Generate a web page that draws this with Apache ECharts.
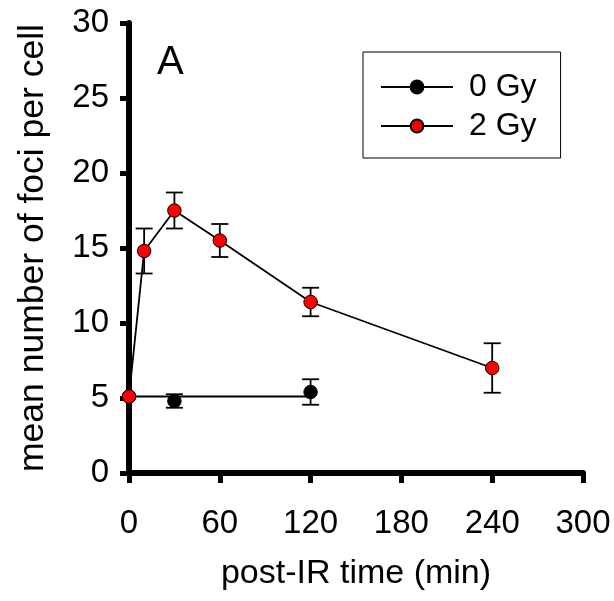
<!DOCTYPE html>
<html>
<head>
<meta charset="utf-8">
<script src="https://cdn.jsdelivr.net/npm/echarts@6/dist/echarts.min.js"></script>
<style>
html,body{margin:0;padding:0;background:#fff;}
#chart{width:614px;height:601px;}
</style>
</head>
<body>
<div id="chart"></div>
<script>
// ---- data ----
const xTicks = [0, 60, 120, 180, 240, 300];
const yTicks = [0, 5, 10, 15, 20, 25, 30];
const times2Gy = [0, 10, 30, 60, 120, 240];
const mean2Gy = [5.1, 14.8, 17.5, 15.5, 11.4, 7.0];
const err2Gy = [0, 1.5, 1.2, 1.1, 0.95, 1.65];
const times0Gy = [0, 30, 120];
const mean0Gy = [5.1, 4.8, 5.4];
const err0Gy = [0, 0.45, 0.85];
const fit0GyTimes = [0, 120];
const fit0GyValues = [5.1, 5.1];
const seriesNames = ['0 Gy', '2 Gy'];
const panelLabel = 'A';
const xTitle = 'post-IR time (min)';
const yTitle = 'mean number of foci per cell';

const FONT = '"Liberation Sans", Arial, sans-serif';

function pairs(xs, ys) { return xs.map((x, i) => [x, ys[i]]); }
function errData(xs, ys, es) {
  return xs.map((x, i) => [x, ys[i], es[i]]).filter(d => d[2] > 0);
}
function renderErr(params, api) {
  const x = api.value(0), y = api.value(1), e = api.value(2);
  const top = api.coord([x, y + e]);
  const bot = api.coord([x, y - e]);
  const hw = 8.5;
  const st = { stroke: '#000', lineWidth: 1.8 };
  return {
    type: 'group',
    children: [
      { type: 'line', shape: { x1: top[0], y1: top[1], x2: bot[0], y2: bot[1] }, style: st },
      { type: 'line', shape: { x1: top[0] - hw, y1: top[1], x2: top[0] + hw, y2: top[1] }, style: st },
      { type: 'line', shape: { x1: bot[0] - hw, y1: bot[1], x2: bot[0] + hw, y2: bot[1] }, style: st }
    ]
  };
}

const chart = echarts.init(document.getElementById('chart'), null, { renderer: 'canvas' });
const axisLineStyle = { color: '#000', width: 6 };
chart.setOption({
  animation: false,
  backgroundColor: '#fff',
  textStyle: { fontFamily: FONT },
  grid: { left: 129, right: 31, top: 23, bottom: 128, containLabel: false },
  xAxis: {
    type: 'value', min: xTicks[0], max: xTicks[xTicks.length - 1], interval: xTicks[1] - xTicks[0],
    axisLine: { show: true, onZero: false, lineStyle: axisLineStyle },
    axisTick: { show: true, length: 10, lineStyle: { color: '#000', width: 5 } },
    axisLabel: { color: '#000', fontSize: 33, margin: 34, fontFamily: FONT },
    splitLine: { show: false },
    name: xTitle, nameLocation: 'middle', nameGap: 84,
    nameTextStyle: { color: '#000', fontSize: 34, fontFamily: FONT }
  },
  yAxis: {
    type: 'value', min: yTicks[0], max: yTicks[yTicks.length - 1], interval: yTicks[1] - yTicks[0],
    axisLine: { show: true, onZero: false, lineStyle: axisLineStyle },
    axisTick: { show: true, length: 9, lineStyle: { color: '#000', width: 5 } },
    axisLabel: { color: '#000', fontSize: 33, margin: 20, fontFamily: FONT },
    splitLine: { show: false },
    name: yTitle, nameLocation: 'middle', nameGap: 78, nameRotate: 90,
    nameTextStyle: { color: '#000', fontSize: 35.5, fontFamily: FONT }
  },
  legend: {
    left: 363, top: 52,
    orient: 'vertical',
    data: [
      { name: seriesNames[0], lineStyle: { opacity: 1, width: 1.8, color: '#000' } },
      { name: seriesNames[1] }
    ],
    itemWidth: 72, itemHeight: 16, itemGap: 7,
    padding: [19, 24, 16, 17],
    borderColor: '#000', borderWidth: 1,
    textStyle: { color: '#000', fontSize: 32, lineHeight: 32, fontFamily: FONT, padding: [0, 0, 0, 11] }
  },
  graphic: [
    { type: 'text', left: 157, top: 43, style: { text: panelLabel, fontSize: 40, fontFamily: FONT, fill: '#000' } }
  ],
  series: [
    {
      name: 'err0', type: 'custom', renderItem: renderErr, z: 1, clip: false,
      data: errData(times0Gy, mean0Gy, err0Gy), silent: true
    },
    {
      name: 'err2', type: 'custom', renderItem: renderErr, z: 1, clip: false,
      data: errData(times2Gy, mean2Gy, err2Gy), silent: true
    },
    {
      name: 'fit0', type: 'line', z: 2, clip: false, symbol: 'none',
      data: pairs(fit0GyTimes, fit0GyValues),
      lineStyle: { color: '#000', width: 1.8 }
    },
    {
      name: seriesNames[0], type: 'line', z: 3, clip: false,
      data: pairs(times0Gy, mean0Gy),
      symbol: 'circle', symbolSize: 13.5,
      itemStyle: { color: '#000', borderColor: '#000', borderWidth: 1 },
      lineStyle: { color: '#000', width: 1.8, opacity: 0 }
    },
    {
      name: seriesNames[1], type: 'line', z: 4, clip: false,
      data: pairs(times2Gy, mean2Gy),
      symbol: 'circle', symbolSize: 13.5,
      itemStyle: { color: '#ff0000', borderColor: '#000', borderWidth: 1 },
      lineStyle: { color: '#000', width: 1.8 }
    }
  ]
});
</script>
</body>
</html>
